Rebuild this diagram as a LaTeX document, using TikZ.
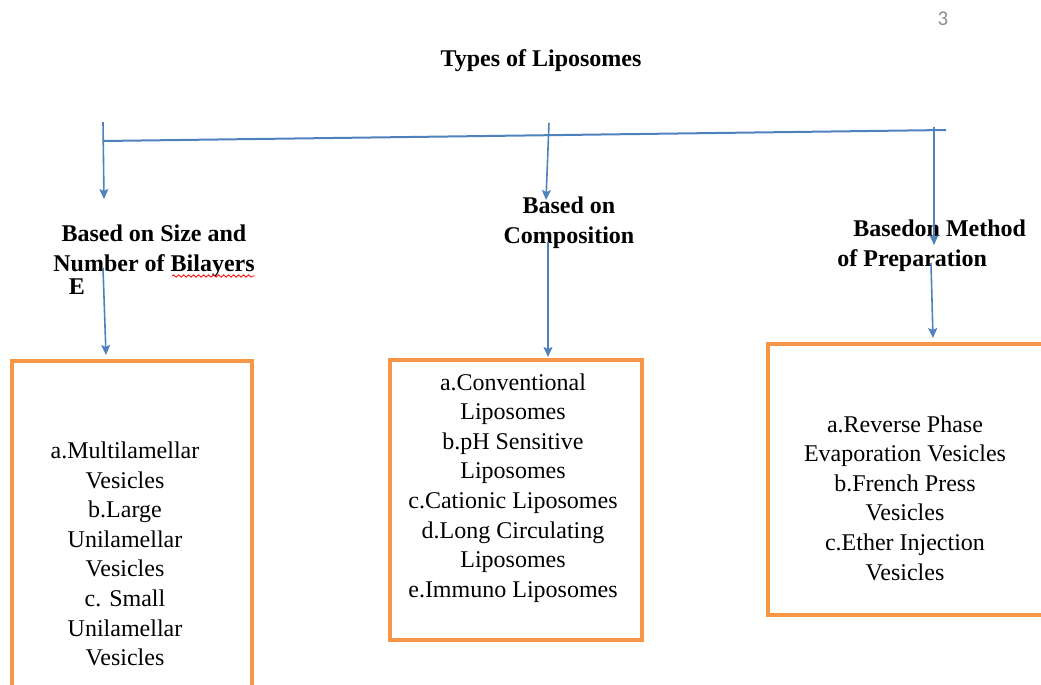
\documentclass[tikz,border=0pt]{standalone}
\usepackage{fontspec}
\setmainfont{Liberation Serif}
\newfontfamily\pagefont{Carlito}
\usetikzlibrary{arrows.meta,decorations.pathmorphing,fit}
\definecolor{lineblue}{HTML}{4F81BD}
\definecolor{boxorange}{HTML}{F79646}
\definecolor{pagegray}{HTML}{8C8C8C}
\begin{document}
\begin{tikzpicture}[x=0.5pt,y=-0.5pt,
  arr/.style={draw=lineblue,line width=0.8pt,-{Stealth[length=5pt,width=4.5pt,inset=1pt]}},
  hline/.style={draw=lineblue,line width=1pt},
  obox/.style={draw=boxorange,line width=2pt,inner sep=0pt},
  txt/.style={font=\fontsize{12}{14.8}\selectfont,align=center,inner sep=0pt},
  head/.style={font=\bfseries\fontsize{12}{15}\selectfont,align=center,inner sep=0pt},
  squig/.style={draw=red,line width=0.4pt,decorate,decoration={snake,amplitude=0.6pt,segment length=2.5pt}}]
\useasboundingbox (0,0) rectangle (1041,685);
\clip (0,0) rectangle (1041,685);

\node[font=\pagefont\fontsize{10.5}{12}\selectfont,text=pagegray] (page) at (943,19) {3};
\node[head] (title) at (541,61) {Types of Liposomes};

% main horizontal line
\coordinate (hl) at (103,141);
\coordinate (hr) at (946,130);
\draw[hline] (hl) -- (hr);

% headings
\node[head] (h1) at (154,251) {Based on Size and\\Number of Bilayers};
\node[head] (h2) at (569,223) {Based on\\Composition};
\node[head,align=left,anchor=west] (h3) at (837,246) {\hspace{8pt}Basedon Method\\of Preparation};
\node[head] (e) at (77,287) {E};
\coordinate (sq1) at (172,276);
\coordinate (sq2) at (255,276);
\draw[squig] (sq1) -- (sq2);

% top arrows
\coordinate (a1s) at (103,122); \coordinate (a1e) at (104,199);
\coordinate (a2s) at (549,123); \coordinate (a2e) at (546,200);
\coordinate (a3s) at (934,127); \coordinate (a3e) at (934,245);
\draw[arr] (a1s) -- (a1e);
\draw[arr] (a2s) -- (a2e);
\draw[arr] (a3s) -- (a3e);

% boxes
\node[obox,fit={(12,361) (252,760)}] (b1) {};
\node[obox,fit={(390,360) (642,640)}] (b2) {};
\node[obox,fit={(768,344) (1070,615)}] (b3) {};

% second arrows
\coordinate (s1) at (103,268); \coordinate (e1) at (106,355);
\coordinate (s2) at (548,242); \coordinate (e2) at (548,357);
\coordinate (s3) at (931,263); \coordinate (e3) at (933,338);
\draw[arr] (s1) -- (e1);
\draw[arr] (s2) -- (e2);
\draw[arr] (s3) -- (e3);

% box texts
\node[txt] (t1) at (125,554) {a.Multilamellar\\Vesicles\\b.Large\\Unilamellar\\Vesicles\\c. Small\\Unilamellar\\Vesicles};
\node[txt] (t2) at (513,488) {a.Conventional\\Liposomes\\b.pH Sensitive\\Liposomes\\c.Cationic Liposomes\\d.Long Circulating\\Liposomes\\e.Immuno Liposomes};
\node[txt] (t3) at (905,498) {a.Reverse Phase\\Evaporation Vesicles\\b.French Press\\Vesicles\\c.Ether Injection\\Vesicles};
\end{tikzpicture}
\end{document}
